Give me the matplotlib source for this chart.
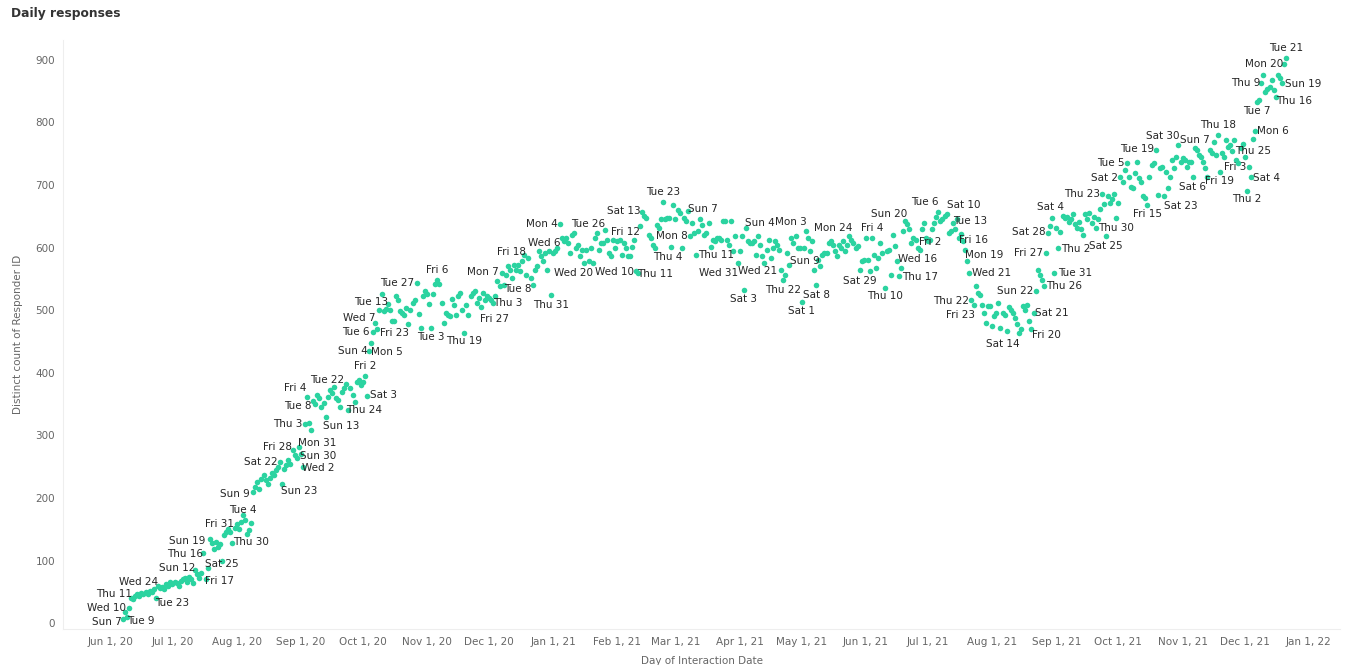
import pandas as pd
import matplotlib
matplotlib.use('Agg')
import matplotlib.pyplot as plt
import matplotlib.dates as mdates

# daily distinct responders
jun20 = [6, 18, 10, 24, 40, 38, 43, 46, 44, 48, 47, 50, 46, 52, 50, 54, 40, 60, 56, 58, 55, 62, 60, 65]
jul20 = [62, 66, 64, 60, 68, 70, 72, 66, 74, 70, 64, 85, 78, 72, 80, 112, 70, 88, 135, 128, 118, 130, 122, 126,
         100, 140, 145, 150, 146, 128, 152]
aug20 = [158, 150, 162, 172, 165, 142, 148, 160, 210, 218, 225, 215, 230, 236, 228, 222, 232, 240, 236, 244,
         250, 258, 222, 246, 252, 260, 255, 276, 268, 264, 282]
sep20 = [270, 250, 318, 362, 320, 309, 355, 350, 365, 360, 345, 352, 330, 362, 372, 368, 378, 360, 357, 346,
         370, 375, 382, 340, 376, 365, 354, 385, 388, 380]
oct20 = [385, 395, 363, 435, 448, 465, 480, 470, 500, 526, 498, 502, 510, 500, 482, 483, 523, 517, 498, 496,
         493, 504, 478, 501, 512, 517, 544, 494, 472, 522, 530]
nov20 = [526, 510, 472, 526, 542, 549, 542, 512, 480, 496, 493, 490, 518, 509, 493, 522, 528, 501, 464, 509,
         493, 522, 528, 530, 512, 520, 505, 528, 517, 522]
dec20 = [520, 517, 512, 522, 546, 538, 560, 540, 557, 570, 565, 552, 573, 565, 573, 562, 578, 589, 557, 584,
         552, 541, 565, 570, 594, 586, 578, 592, 565, 594, 525]
jan21 = [592, 594, 600, 637, 616, 610, 616, 608, 592, 621, 624, 600, 605, 586, 597, 576, 597, 578, 600, 576,
         616, 624, 597, 608, 608, 628, 613, 592, 586, 613, 600]
feb21 = [610, 613, 589, 608, 600, 586, 587, 601, 613, 562, 560, 635, 657, 650, 647, 620, 615, 605, 600, 636,
         632, 645, 673, 645, 647, 648, 601, 668]
mar21 = [645, 660, 655, 600, 647, 642, 658, 618, 640, 624, 589, 626, 645, 636, 621, 624, 640, 601, 613, 610,
         616, 616, 613, 642, 642, 613, 605, 642, 594, 618, 576]
apr21 = [594, 618, 533, 632, 610, 608, 608, 610, 589, 618, 605, 586, 576, 597, 613, 584, 600, 610, 605, 597,
         565, 549, 557, 592, 573, 616, 608, 618, 600, 600]
may21 = [513, 600, 626, 616, 594, 610, 565, 541, 581, 570, 589, 592, 592, 608, 610, 605, 594, 586, 605, 600,
         610, 595, 605, 618, 612, 608, 600, 602, 565, 578, 581]
jun21 = [616, 581, 562, 616, 589, 568, 584, 608, 592, 535, 594, 597, 557, 621, 602, 578, 554, 568, 626, 642,
         637, 629, 608, 616, 612, 600, 597, 629, 640, 616]
jul21 = [610, 612, 629, 640, 649, 657, 642, 645, 650, 653, 624, 626, 640, 629, 645, 616, 622, 610, 597, 578,
         560, 517, 509, 538, 528, 525, 509, 496, 480, 506, 506]
aug21 = [474, 490, 496, 512, 472, 496, 493, 466, 505, 500, 496, 488, 478, 464, 470, 506, 501, 508, 482, 470,
         496, 531, 565, 557, 548, 538, 592, 624, 634, 647, 560]
sep21 = [632, 600, 625, 650, 648, 649, 641, 645, 653, 637, 632, 641, 629, 621, 653, 645, 656, 640, 649, 632,
         645, 661, 685, 669, 619, 682, 672, 677, 685, 648]
oct21 = [672, 713, 705, 724, 735, 713, 697, 695, 719, 737, 711, 705, 682, 680, 668, 713, 732, 735, 756, 684,
         727, 729, 682, 721, 695, 713, 740, 727, 745, 764, 737]
nov21 = [743, 740, 729, 737, 737, 713, 759, 756, 748, 745, 737, 727, 713, 756, 751, 769, 748, 780, 721, 751,
         745, 772, 761, 764, 755, 772, 740, 735, 760, 765]
dec21 = [745, 691, 729, 713, 774, 786, 833, 836, 863, 876, 849, 853, 857, 868, 852, 841, 876, 871, 863, 894, 903]

responses = (jun20 + jul20 + aug20 + sep20 + oct20 + nov20 + dec20 + jan21 + feb21 + mar21 + apr21
             + may21 + jun21 + jul21 + aug21 + sep21 + oct21 + nov21 + dec21)
dates = pd.date_range('2020-06-07', periods=len(responses), freq='D')
series = pd.Series(responses, index=dates)

# labelled days and where their text sits (pixel offset from the dot)
label_days = ['2020-06-07', '2020-06-09', '2020-06-10', '2020-06-11', '2020-06-23', '2020-06-24',
              '2020-07-12', '2020-07-16', '2020-07-17', '2020-07-19', '2020-07-25', '2020-07-30',
              '2020-07-31', '2020-08-04', '2020-08-09', '2020-08-22', '2020-08-23', '2020-08-28',
              '2020-08-30', '2020-08-31', '2020-09-02', '2020-09-03', '2020-09-04', '2020-09-08',
              '2020-09-13', '2020-09-22', '2020-09-24', '2020-10-02', '2020-10-03', '2020-10-04',
              '2020-10-05', '2020-10-06', '2020-10-07', '2020-10-13', '2020-10-23', '2020-10-27',
              '2020-11-03', '2020-11-06', '2020-11-19', '2020-11-27', '2020-12-03', '2020-12-07',
              '2020-12-08', '2020-12-18', '2020-12-31', '2021-01-04', '2021-01-06', '2021-01-20',
              '2021-01-26', '2021-02-10', '2021-02-11', '2021-02-12', '2021-02-13', '2021-02-23',
              '2021-03-04', '2021-03-07', '2021-03-08', '2021-03-11', '2021-03-31', '2021-04-03',
              '2021-04-04', '2021-04-21', '2021-04-22', '2021-05-01', '2021-05-03', '2021-05-08',
              '2021-05-09', '2021-05-24', '2021-05-29', '2021-06-04', '2021-06-10', '2021-06-16',
              '2021-06-17', '2021-06-20', '2021-07-02', '2021-07-06', '2021-07-10', '2021-07-13',
              '2021-07-16', '2021-07-19', '2021-07-21', '2021-07-22', '2021-07-23', '2021-08-14',
              '2021-08-20', '2021-08-21', '2021-08-22', '2021-08-26', '2021-08-27', '2021-08-28',
              '2021-08-31', '2021-09-02', '2021-09-04', '2021-09-23', '2021-09-25', '2021-09-30',
              '2021-10-02', '2021-10-05', '2021-10-15', '2021-10-19', '2021-10-23', '2021-10-30',
              '2021-11-06', '2021-11-07', '2021-11-18', '2021-11-19', '2021-11-25', '2021-12-02',
              '2021-12-03', '2021-12-04', '2021-12-06', '2021-12-07', '2021-12-09', '2021-12-16',
              '2021-12-19', '2021-12-20', '2021-12-21']
label_offsets = [(-16, -3), (14, -4), (-22, 0), (-17, 4), (16, -5), (-19, 4),
                 (-18, 2), (-18, -1), (14, -2), (-23, -2), (0, -3), (19, 1),
                 (-15, 4), (0, 5), (-18, -2), (-19, 0), (17, -7), (-15, 3),
                 (21, 2), (18, 4), (15, -1), (-17, 0), (-12, 9), (-17, -2),
                 (16, -9), (-17, 8), (16, 0), (0, 10), (16, 1), (-16, 0),
                 (16, -9), (-17, 0), (-16, 5), (-17, 2), (-14, -9), (-20, 0),
                 (0, -9), (0, 10), (0, -8), (14, -12), (14, 0), (-19, 1),
                 (14, -4), (-13, 3), (0, -10), (-18, 0), (-19, -2), (-19, -10),
                 (-17, 6), (-22, -1), (17, -1), (-15, -6), (-19, 1), (0, 10),
                 (-14, -9), (15, 2), (-18, 0), (20, 0), (-19, -10), (0, -9),
                 (14, 5), (-23, -1), (0, -10), (0, -9), (-15, 9), (0, -10),
                 (-13, -1), (-16, 8), (0, -11), (0, 10), (0, -8), (21, 2),
                 (21, -1), (-16, 7), (0, -2), (-14, 10), (17, 9), (17, 2),
                 (14, -2), (19, -5), (22, 0), (-20, -1), (-13, -10), (-16, -11),
                 (15, -6), (18, 0), (-20, 0), (20, 0), (-17, 0), (-19, 1),
                 (21, 0), (17, -1), (-12, 9), (-20, 0), (0, -10), (0, -10),
                 (-16, -1), (-16, 0), (0, -9), (-19, 1), (17, -10), (-16, 9),
                 (0, -10), (0, 8), (0, 10), (0, -9), (21, 0), (0, -8),
                 (-14, 0), (16, -1), (18, 0), (0, -9), (-16, 0), (18, -4),
                 (21, -1), (-20, 0), (0, 10)]

dot_color = '#2BD3A0'
grey = '#666666'

fig = plt.figure(figsize=(13.48, 6.65), dpi=100)
ax = fig.add_axes([0.047, 0.054, 0.947, 0.886])

ax.scatter(series.index, series.values, s=16, color=dot_color, linewidths=0, zorder=3)

for day, (dx, dy) in zip(label_days, label_offsets):
    d = pd.Timestamp(day)
    ax.annotate(f"{d:%a} {d.day}", (d, series[d]), xytext=(dx, dy), textcoords='offset pixels',
                ha='center', va='center', fontsize=7.5, color='#252525', zorder=4)

start = pd.Timestamp('2020-06-01')
ax.set_xlim(start - pd.Timedelta(days=22.7), start + pd.Timedelta(days=594))
ax.set_ylim(-9.6, 932)
ax.set_yticks(range(0, 1000, 100))

ticks = pd.date_range('2020-06-01', '2022-01-01', freq='MS')
ax.set_xticks(ticks)
ax.set_xticklabels([f"{t:%b} 1, {t:%y}" for t in ticks])

ax.tick_params(length=0, labelsize=7.5, labelcolor=grey, pad=6)
for side in ['top', 'right']:
    ax.spines[side].set_visible(False)
for side in ['left', 'bottom']:
    ax.spines[side].set_color('#eeeeee')

ax.set_xlabel('Day of Interaction Date', fontsize=7.5, color=grey, labelpad=6)
ax.set_ylabel('Distinct count of Responder ID', fontsize=7.5, color=grey, labelpad=9)

fig.text(0.008, 0.979, 'Daily responses', fontsize=8.8, fontweight='bold', color='#333333', va='center')

plt.savefig('out.png', dpi=100)
